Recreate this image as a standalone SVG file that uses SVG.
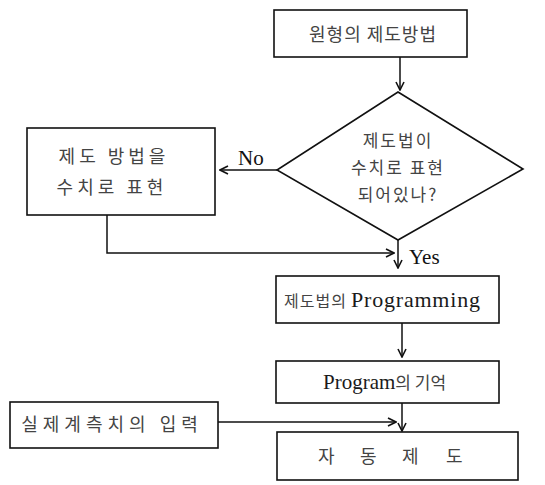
<svg xmlns="http://www.w3.org/2000/svg" width="545" height="485" viewBox="0 0 545 485">
<style>
.box{fill:#fff;stroke:#111;stroke-width:1.6}
.ln{fill:none;stroke:#111;stroke-width:1.5}
.t{font-family:"Liberation Serif","Noto Sans CJK KR",serif;font-size:21px;fill:#1a1a1a}
.k{font-family:"Noto Sans CJK KR","Liberation Serif",serif;font-size:17px;fill:#444;text-anchor:middle}
.ks{font-family:"Noto Sans CJK KR",sans-serif;font-size:16px;fill:#444}
.lbl{font-family:"Liberation Serif",serif;font-size:21px;fill:#111}
</style>
<defs>
<marker id="ah" viewBox="0 0 10 10" refX="9" refY="5" markerWidth="10" markerHeight="10" markerUnits="userSpaceOnUse" orient="auto">
<polyline points="1,1 9,5 1,9" fill="none" stroke="#111" stroke-width="1.6"/>
</marker>
</defs>
<rect width="545" height="485" fill="#fff"/>
<g id="connectors">
<line class="ln" x1="400" y1="57" x2="400" y2="90" marker-end="url(#ah)"/>
<line class="ln" x1="277" y1="170" x2="220" y2="170" marker-end="url(#ah)"/>
<polyline class="ln" points="107,215 107,253 394,253" marker-end="url(#ah)"/>
<line class="ln" x1="398" y1="240" x2="398" y2="268" marker-end="url(#ah)"/>
<line class="ln" x1="402" y1="323" x2="402" y2="357" marker-end="url(#ah)"/>
<line class="ln" x1="218" y1="422" x2="396" y2="422" marker-end="url(#ah)"/>
<line class="ln" x1="402" y1="403" x2="402" y2="431" marker-end="url(#ah)"/>
<text class="lbl" x="238" y="165">No</text>
<text class="lbl" x="409" y="264">Yes</text>
</g>
<g id="n1">
<rect class="box" x="274" y="10" width="193" height="47"/>
<text class="k" x="373" y="41" style="font-size:18px;letter-spacing:1px">원형의 제도방법</text>
</g>
<g id="n2">
<polygon class="box" points="398,92 523,169 398,240 277,170"/>
<text class="k" x="398" y="147" style="letter-spacing:2px">제도법이</text>
<text class="k" x="398" y="174" style="letter-spacing:2px">수치로 표현</text>
<text class="k" x="398" y="201" style="letter-spacing:2px">되어있나?</text>
</g>
<g id="n3">
<rect class="box" x="27" y="128" width="188" height="87"/>
<text class="k" x="114" y="163" style="font-size:18px;letter-spacing:4px">제도 방법을</text>
<text class="k" x="112" y="194" style="font-size:18px;letter-spacing:4px">수치로 표현</text>
</g>
<g id="n4">
<rect class="box" x="276" y="276" width="223" height="47"/>
<text class="t" x="284" y="307"><tspan class="ks" style="letter-spacing:1px">제도법의</tspan> <tspan x="351" style="font-size:22px;letter-spacing:0.8px">Programming</tspan></text>
</g>
<g id="n5">
<rect class="box" x="276" y="361" width="223" height="42"/>
<text class="t" x="323" y="389">Program<tspan class="ks" style="font-size:17px">의 기억</tspan></text>
</g>
<g id="n6">
<rect class="box" x="10" y="402" width="208" height="46"/>
<text class="k" x="112" y="431" style="font-size:18px;letter-spacing:5px">실제계측치의 입력</text>
</g>
<g id="n7">
<rect class="box" x="277" y="432" width="241" height="48"/>
<text class="ks" style="font-size:18px" y="463"><tspan x="318">자</tspan><tspan x="360">동</tspan><tspan x="402">제</tspan><tspan x="446">도</tspan></text>
</g>
</svg>
